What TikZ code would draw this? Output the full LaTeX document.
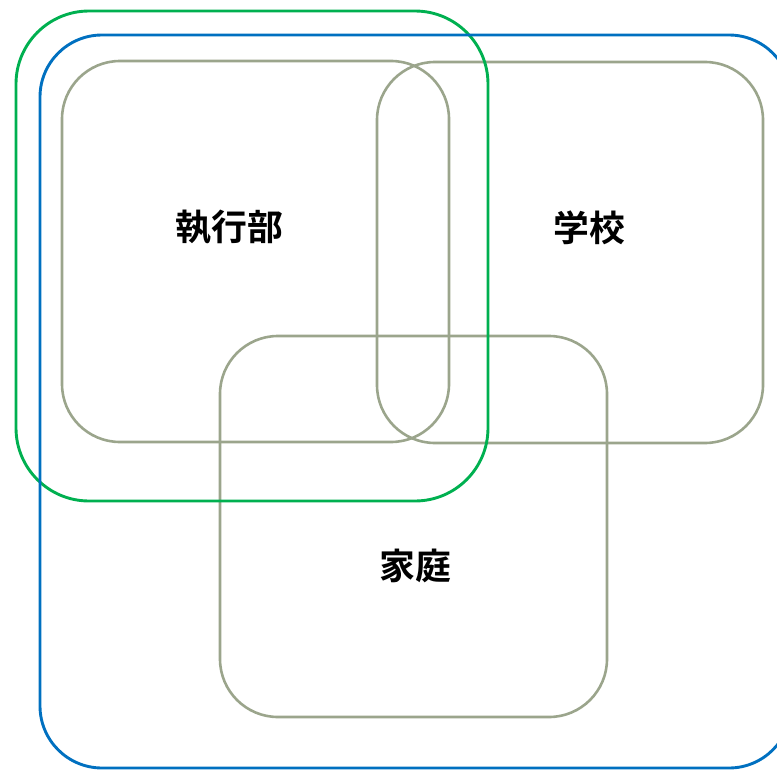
\documentclass[tikz,border=0pt]{standalone}
\usepackage{fontspec}
\newfontfamily\cjkfont{Noto Sans CJK JP}[BoldFont={* Bold}]
\definecolor{grn}{RGB}{0,176,80}
\definecolor{blu}{RGB}{0,112,192}
\definecolor{gry}{RGB}{155,165,140}
\tikzset{
  grnbox/.style={draw=grn, line width=2.9bp, rounded corners=73bp},
  blubox/.style={draw=blu, line width=2.9bp, rounded corners=62bp},
  grybox/.style={draw=gry, line width=2.6bp, rounded corners=58bp},
  lbl/.style={font=\cjkfont\bfseries\fontsize{36}{40}\selectfont, text=black, inner sep=0pt}
}
\begin{document}
\begin{tikzpicture}[x=1bp,y=-1bp]
\useasboundingbox (0,0) rectangle (777,770);
\begin{scope}
\clip (0,0) rectangle (777,770);
\draw[grybox] (62,61) rectangle (449,442);
\draw[grybox] (377,62) rectangle (763,443);
\draw[grybox] (220,336) rectangle (607,717);
\draw[grnbox] (16,11) rectangle (488,501);
\draw[blubox] (40,35) rectangle (791,768);
\end{scope}
\node[lbl] (exec) at (229.5,227) {執行部};
\node[lbl] (school) at (589.5,228) {学校};
\node[lbl] (home) at (415,566) {家庭};
\end{tikzpicture}
\end{document}
